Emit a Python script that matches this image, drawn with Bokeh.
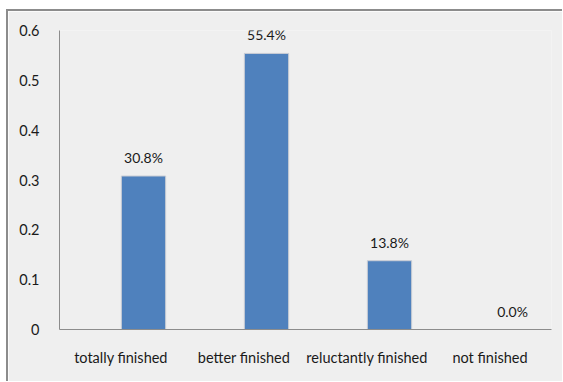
from bokeh.plotting import figure
from bokeh.models import ColumnDataSource, Range1d, FixedTicker, CustomJSTickFormatter, Spacer
from bokeh.layouts import column, row
from bokeh.core.properties import value
from bokeh.embed import file_html
from bokeh.resources import INLINE

categories = ["totally finished", "better finished", "reluctantly finished", "not finished"]
values = [0.308, 0.554, 0.138, 0.0]
labels = ["30.8%", "55.4%", "13.8%", "0.0%"]
y_ticks = [0, 0.1, 0.2, 0.3, 0.4, 0.5, 0.6]

FONT = "Lato"
BG = "#efefef"
X0 = 0.317

xpos = list(range(1, len(categories) + 1))
label_pos = [X0 + 0.5 + i for i in range(len(categories))]
src = ColumnDataSource(dict(x=xpos, cat=categories, val=values, lab=labels))

p = figure(x_range=Range1d(X0, X0 + len(categories)), y_range=Range1d(0, 0.6), width=556, height=372,
           output_backend="svg", toolbar_location=None,
           min_border_left=51, min_border_top=19, min_border_right=13, min_border_bottom=54)
p.background_fill_color = BG
p.border_fill_color = BG
p.outline_line_color = None
p.grid.grid_line_color = None

p.vbar(x="x", top="val", width=0.36, source=src, fill_color="#4f81bd",
       line_color="#c8ccd4", line_width=1)
p.text(x="x", y="val", text="lab", source=src, text_align="center",
       text_baseline="bottom", y_offset=-10, text_font=value(FONT),
       text_font_size="14px", text_color="#1a1a1a")

p.yaxis.ticker = FixedTicker(ticks=y_ticks)
p.yaxis.formatter = CustomJSTickFormatter(code="return tick == 0 ? '0' : tick.toFixed(1);")
p.xaxis.ticker = FixedTicker(ticks=label_pos)
p.xaxis.formatter = CustomJSTickFormatter(
    args=dict(cats=categories, x0=X0),
    code="return cats[Math.round(tick - x0 - 0.5)];")
for ax in (p.xaxis, p.yaxis):
    ax.major_tick_line_color = None
    ax.minor_tick_line_color = None
    ax.axis_line_color = "#8c8c8c"
    ax.major_label_text_font = FONT
    ax.major_label_text_font_size = "14.5px"
    ax.major_label_text_color = "#1a1a1a"
p.yaxis.major_label_standoff = 14
p.xaxis.major_label_standoff = 13

p.styles = {"border-left": "2px solid #8c8c8c", "border-top": "2px solid #8c8c8c",
            "box-sizing": "border-box"}

layout = column(Spacer(height=9), row(Spacer(width=6), p))
open("out.html", "w").write(file_html(layout, INLINE))
